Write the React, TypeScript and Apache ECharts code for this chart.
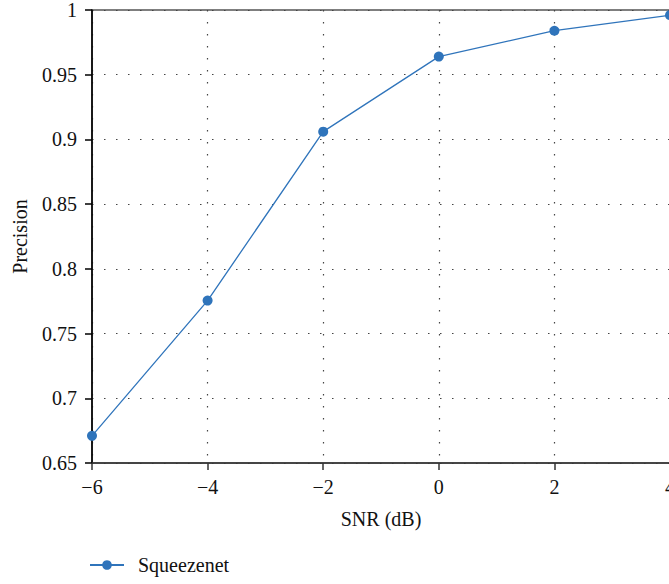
import React, { useEffect, useRef } from "react";
import * as echarts from "echarts";

const snr = [-6, -4, -2, 0, 2, 4];
const squeezenet = [0.671, 0.7755, 0.906, 0.964, 0.984, 0.996];
const seriesName = "Squeezenet";
const xTicks = { min: -6, max: 4, interval: 2 };
const yTicks = { min: 0.65, max: 1, interval: 0.05 };

const FONT = "Liberation Serif";

export default function App() {
  const ref = useRef<HTMLDivElement>(null);
  useEffect(() => {
    if (!ref.current) return;
    const chart = echarts.init(ref.current, undefined, { renderer: "svg" });
    chart.setOption({
      animation: false,
      grid: {
        left: 92,
        right: 30,
        top: 8,
        bottom: 121,
        show: true,
        borderColor: "#000",
        borderWidth: 1.2,
      },
      legend: {
        left: 84,
        top: 550,
        itemWidth: 34,
        itemHeight: 12,
        textStyle: { fontFamily: FONT, fontSize: 20, color: "#111", padding: [0, 0, 0, 9] },
        data: [seriesName],
      },
      xAxis: {
        type: "value",
        min: xTicks.min,
        max: xTicks.max,
        interval: xTicks.interval,
        name: "SNR (dB)",
        nameLocation: "middle",
        nameGap: 46,
        nameTextStyle: { fontFamily: FONT, fontSize: 20, color: "#111" },
        axisLine: { onZero: false, lineStyle: { color: "#333", width: 1.5 } },
        axisTick: { show: true, inside: false, length: 7, lineStyle: { color: "#333", width: 1.5 } },
        axisLabel: {
          fontFamily: FONT,
          fontSize: 20,
          color: "#111",
          margin: 14,
          formatter: (v: number) => (v < 0 ? "\u2212" + Math.abs(v) : String(v)),
        },
        splitLine: { show: true, lineStyle: { color: "#444", type: [1.5, 10.5], width: 1.2 } },
      },
      yAxis: {
        type: "value",
        min: yTicks.min,
        max: yTicks.max,
        interval: yTicks.interval,
        name: "Precision",
        nameLocation: "middle",
        nameGap: 62,
        nameRotate: 90,
        nameTextStyle: { fontFamily: FONT, fontSize: 20, color: "#111" },
        axisLine: { show: true, onZero: false, lineStyle: { color: "#000", width: 1.5 } },
        axisTick: { show: true, inside: false, length: 7, lineStyle: { color: "#000", width: 1.5 } },
        axisLabel: {
          fontFamily: FONT,
          fontSize: 20,
          color: "#111",
          margin: 15,
          formatter: (v: number) => String(parseFloat(v.toFixed(2))),
        },
        splitLine: { show: true, lineStyle: { color: "#444", type: [1.5, 10.5], width: 1.2 } },
      },
      series: [
        {
          name: seriesName,
          type: "line",
          data: snr.map((x, i) => [x, squeezenet[i]]),
          symbol: "circle",
          symbolSize: 10,
          color: "#2f74bb",
          lineStyle: { width: 1.3, color: "#2f74bb" },
          itemStyle: { color: "#2f74bb" },
          clip: false,
        },
      ],
    });
    return () => chart.dispose();
  }, []);
  return (
    <div
      style={{
        position: "fixed",
        left: 0,
        top: 0,
        width: 669,
        height: 584,
        overflow: "hidden",
        background: "#fff",
      }}
    >
      <div ref={ref} style={{ position: "absolute", left: 0, top: 0, width: 700, height: 584 }} />
    </div>
  );
}
